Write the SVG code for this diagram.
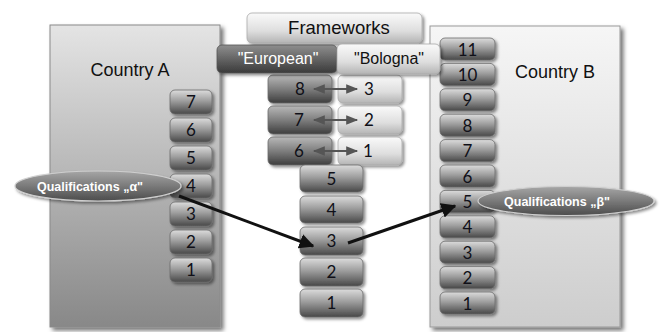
<svg xmlns="http://www.w3.org/2000/svg" width="662" height="332" viewBox="0 0 662 332">
<defs>
<linearGradient id="gA" x1="0" y1="0" x2="0" y2="1"><stop offset="0" stop-color="#e4e4e4"/><stop offset="1" stop-color="#888888"/></linearGradient>
<linearGradient id="gB" x1="0" y1="0" x2="0" y2="1"><stop offset="0" stop-color="#f6f6f6"/><stop offset="1" stop-color="#cdcdcd"/></linearGradient>
<linearGradient id="gNum" x1="0" y1="0" x2="0" y2="1"><stop offset="0" stop-color="#dcdcdc"/><stop offset="0.45" stop-color="#9e9e9e"/><stop offset="1" stop-color="#484848"/></linearGradient>
<linearGradient id="gDark" x1="0" y1="0" x2="0" y2="1"><stop offset="0" stop-color="#b8b8b8"/><stop offset="0.5" stop-color="#7e7e7e"/><stop offset="1" stop-color="#3e3e3e"/></linearGradient>
<linearGradient id="gLight" x1="0" y1="0" x2="0" y2="1"><stop offset="0" stop-color="#fafafa"/><stop offset="0.6" stop-color="#dedede"/><stop offset="1" stop-color="#b4b4b4"/></linearGradient>
<linearGradient id="gEu" x1="0" y1="0" x2="0" y2="1"><stop offset="0" stop-color="#8e8e8e"/><stop offset="1" stop-color="#3a3a3a"/></linearGradient>
<linearGradient id="gEll" x1="0" y1="0" x2="0" y2="1"><stop offset="0" stop-color="#a6a6a6"/><stop offset="0.5" stop-color="#7a7a7a"/><stop offset="1" stop-color="#4c4c4c"/></linearGradient>
<filter id="sh" x="-20%" y="-20%" width="140%" height="140%"><feDropShadow dx="2" dy="2" stdDeviation="1.5" flood-color="#000" flood-opacity="0.45"/></filter>
<filter id="shBig" x="-10%" y="-10%" width="120%" height="120%"><feDropShadow dx="3" dy="3" stdDeviation="2" flood-color="#000" flood-opacity="0.55"/></filter>
<marker id="ah" viewBox="0 0 10 10" refX="9" refY="5" markerWidth="5" markerHeight="5" orient="auto-start-reverse"><path d="M0,0 L10,5 L0,10 z" fill="#111"/></marker>
<marker id="ahg" viewBox="0 0 10 10" refX="9" refY="5" markerWidth="7" markerHeight="6" orient="auto-start-reverse"><path d="M0,1 L10,5 L0,9 z" fill="#555"/></marker>
</defs>
<style>
.num{fill:url(#gNum);stroke:#6a6a6a;stroke-width:0.8;filter:url(#sh)}
.dk{fill:url(#gDark);stroke:#6a6a6a;stroke-width:0.8;filter:url(#sh)}
.lt{fill:url(#gLight);stroke:#aaaaaa;stroke-width:0.8;filter:url(#sh)}
.n{font-family:Lato,"Open Sans",sans-serif;font-size:17px;fill:#101018;text-anchor:middle}
.big{font-family:"Liberation Sans",Arial,sans-serif;font-size:18px;fill:#111;text-anchor:middle}
.q{font-family:"Liberation Sans",Arial,sans-serif;font-size:12.5px;font-weight:bold;fill:#fff;text-anchor:middle}
.ell{fill:url(#gEll);stroke:#cfcfcf;stroke-width:1.2;filter:url(#sh)}
.conn{stroke:#111;stroke-width:3;fill:none;marker-end:url(#ah)}
.dbl{stroke:#555;stroke-width:2;fill:none;marker-start:url(#ahg);marker-end:url(#ahg)}
</style>

<g id="countryA">
<rect x="50" y="25" width="170" height="302" fill="url(#gA)" stroke="#8a8a8a" stroke-width="1" filter="url(#shBig)"/>
<text class="big" x="130" y="76">Country A</text>
</g>
<g id="countryB">
<rect x="430" y="26" width="190" height="301" fill="url(#gB)" stroke="#999" stroke-width="1" filter="url(#shBig)"/>
<text class="big" x="555" y="78">Country B</text>
</g>

<g id="frameworks">
<rect x="247" y="13" width="175" height="30" rx="5" class="lt"/>
<text class="big" x="339" y="34" style="font-size:18.5px">Frameworks</text>
</g>

<g id="stackA">
<g id="a7"><rect class="num" x="170" y="90" width="42" height="24" rx="5"/><text class="n" x="191" y="108">7</text></g>
<g id="a6"><rect class="num" x="170" y="118" width="42" height="24" rx="5"/><text class="n" x="191" y="136">6</text></g>
<g id="a5"><rect class="num" x="170" y="146" width="42" height="24" rx="5"/><text class="n" x="191" y="164">5</text></g>
<g id="a4"><rect class="num" x="170" y="174" width="42" height="24" rx="5"/><text class="n" x="191" y="192">4</text></g>
<g id="a3"><rect class="num" x="170" y="202" width="42" height="24" rx="5"/><text class="n" x="191" y="220">3</text></g>
<g id="a2"><rect class="num" x="170" y="230" width="42" height="24" rx="5"/><text class="n" x="191" y="248">2</text></g>
<g id="a1"><rect class="num" x="170" y="258" width="42" height="24" rx="5"/><text class="n" x="191" y="276">1</text></g>
</g>

<g id="stackB">
<g id="b11"><rect class="num" x="440" y="38" width="55" height="22" rx="5"/><text class="n" x="467.5" y="55.5">11</text></g>
<g id="b10"><rect class="num" x="440" y="63.4" width="55" height="22" rx="5"/><text class="n" x="467.5" y="80.9">10</text></g>
<g id="b9"><rect class="num" x="440" y="88.8" width="55" height="22" rx="5"/><text class="n" x="467.5" y="106.3">9</text></g>
<g id="b8"><rect class="num" x="440" y="114.2" width="55" height="22" rx="5"/><text class="n" x="467.5" y="131.7">8</text></g>
<g id="b7"><rect class="num" x="440" y="139.6" width="55" height="22" rx="5"/><text class="n" x="467.5" y="157.1">7</text></g>
<g id="b6"><rect class="num" x="440" y="165" width="55" height="22" rx="5"/><text class="n" x="467.5" y="182.5">6</text></g>
<g id="b5"><rect class="num" x="440" y="190.4" width="55" height="22" rx="5"/><text class="n" x="467.5" y="207.9">5</text></g>
<g id="b4"><rect class="num" x="440" y="215.8" width="55" height="22" rx="5"/><text class="n" x="467.5" y="233.3">4</text></g>
<g id="b3"><rect class="num" x="440" y="241.2" width="55" height="22" rx="5"/><text class="n" x="467.5" y="258.7">3</text></g>
<g id="b2"><rect class="num" x="440" y="266.6" width="55" height="22" rx="5"/><text class="n" x="467.5" y="284.1">2</text></g>
<g id="b1"><rect class="num" x="440" y="292" width="55" height="22" rx="5"/><text class="n" x="467.5" y="309.5">1</text></g>
</g>

<g id="europeanStack">
<g id="e8"><rect class="dk" x="268" y="75" width="64" height="28" rx="5"/><text class="n" x="300" y="95">8</text></g>
<g id="e7"><rect class="dk" x="268" y="106" width="64" height="28" rx="5"/><text class="n" x="299" y="126">7</text></g>
<g id="e6"><rect class="dk" x="268" y="137" width="64" height="28" rx="5"/><text class="n" x="299" y="157">6</text></g>
</g>
<g id="bolognaStack">
<g id="bo3"><rect class="lt" x="338" y="75" width="64" height="28" rx="5"/><text class="n" x="369" y="95">3</text></g>
<g id="bo2"><rect class="lt" x="338" y="106" width="64" height="28" rx="5"/><text class="n" x="369" y="126">2</text></g>
<g id="bo1"><rect class="lt" x="338" y="137" width="64" height="28" rx="5"/><text class="n" x="368" y="157">1</text></g>
</g>

<g id="european">
<rect x="217" y="45" width="120" height="28" rx="5" fill="url(#gEu)" stroke="#555" stroke-width="0.8" filter="url(#sh)"/>
<text class="big" x="278" y="64" style="font-size:16px;fill:#fff">"European"</text>
</g>
<g id="bologna">
<rect x="337" y="44" width="103" height="30" rx="5" class="lt"/>
<text class="big" x="389" y="64" style="font-size:16px">"Bologna"</text>
</g>

<g id="nqf">
<g id="c5"><rect class="num" x="300" y="165" width="63" height="27" rx="5"/><text class="n" x="331.5" y="184.5">5</text></g>
<g id="c4"><rect class="num" x="300" y="196" width="63" height="27" rx="5"/><text class="n" x="331.5" y="215.5">4</text></g>
<g id="c3"><rect class="num" x="300" y="227" width="63" height="28" rx="5"/><text class="n" x="331.5" y="247">3</text></g>
<g id="c2"><rect class="num" x="300" y="258" width="63" height="28" rx="5"/><text class="n" x="331.5" y="278">2</text></g>
<g id="c1"><rect class="num" x="300" y="289" width="63" height="28" rx="5"/><text class="n" x="331.5" y="309">1</text></g>
</g>

<g id="qualA">
<ellipse class="ell" cx="98" cy="186" rx="83" ry="15"/>
<text class="q" x="90" y="190.5">Qualifications „α"</text>
</g>
<g id="qualB">
<ellipse class="ell" cx="566" cy="201" rx="88" ry="14.5"/>
<text class="q" x="557" y="205.5">Qualifications „β"</text>
</g>

<g id="connectors">
<line class="dbl" x1="314" y1="89" x2="357" y2="89"/>
<line class="dbl" x1="314" y1="120" x2="357" y2="120"/>
<line class="dbl" x1="314" y1="151" x2="357" y2="151"/>
<line class="conn" x1="179" y1="196" x2="313" y2="246"/>
<line class="conn" x1="348" y1="243" x2="455" y2="206"/>
</g>
</svg>
